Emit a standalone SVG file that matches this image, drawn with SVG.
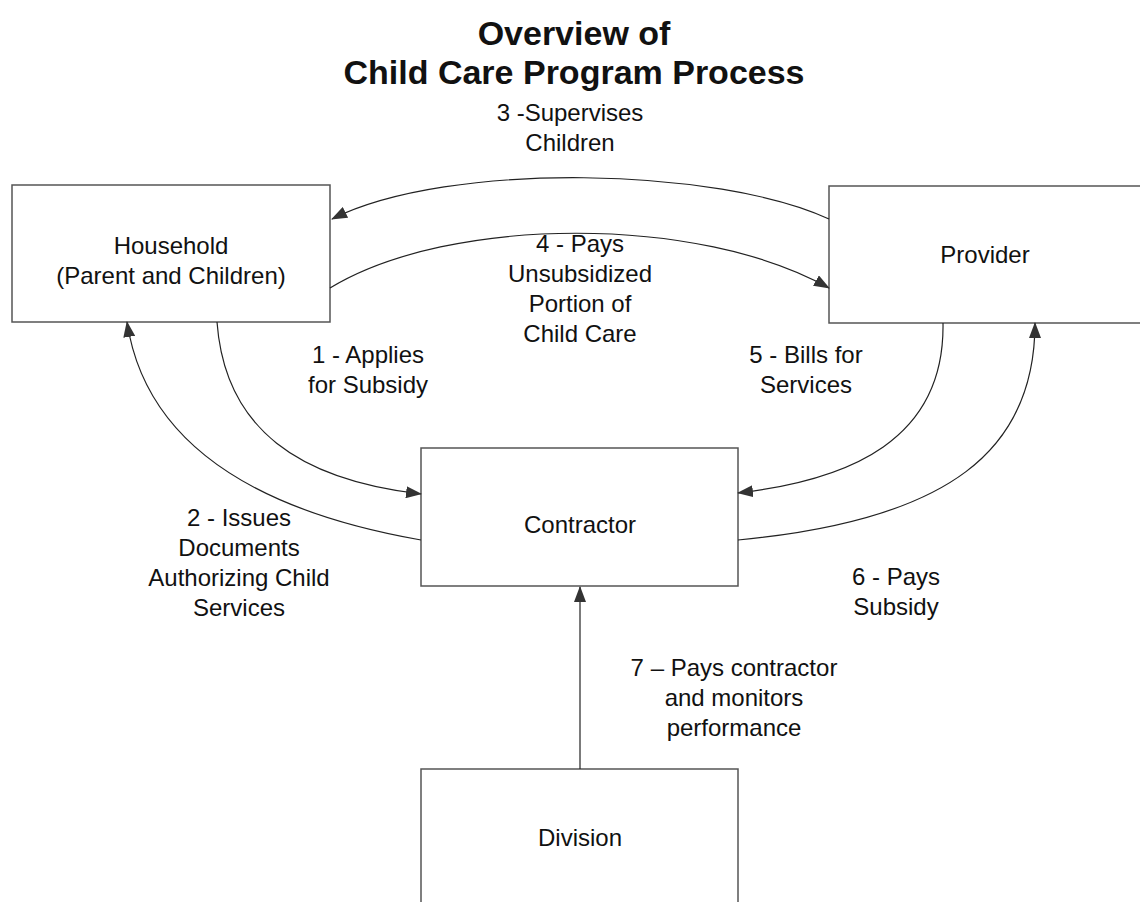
<svg xmlns="http://www.w3.org/2000/svg" width="1140" height="902" viewBox="0 0 1140 902">
<defs>
<style>
.box{fill:#fff;stroke:#555;stroke-width:1.5}
.t{font-family:"Liberation Sans",Arial,sans-serif;font-size:24px;fill:#111;text-anchor:middle}
.title{font-family:"Liberation Sans",Arial,sans-serif;font-size:34px;font-weight:bold;fill:#111;text-anchor:middle}
.c{fill:none;stroke:#222;stroke-width:1.2}
</style>
<marker id="arr" markerUnits="userSpaceOnUse" markerWidth="16" markerHeight="12" refX="15" refY="6" orient="auto">
<path d="M0,0 L16,6 L0,12 Z" fill="#333"/>
</marker>
</defs>
<rect width="1140" height="902" fill="#fff"/>
<g id="title">
<text class="title" x="574" y="45">Overview of</text>
<text class="title" x="574" y="84">Child Care Program Process</text>
</g>
<g id="household">
<rect class="box" x="12" y="185" width="318" height="137"/>
<text class="t" x="171" y="254">Household</text>
<text class="t" x="171" y="284">(Parent and Children)</text>
</g>
<g id="provider">
<rect class="box" x="829" y="186" width="320" height="137"/>
<text class="t" x="985" y="263">Provider</text>
</g>
<g id="contractor">
<rect class="box" x="421" y="448" width="317" height="138"/>
<text class="t" x="580" y="533">Contractor</text>
</g>
<g id="division">
<rect class="box" x="421" y="769" width="317" height="150"/>
<text class="t" x="580" y="846">Division</text>
</g>
<g id="connectors">
<path class="c" d="M829,219 C720,168 450,160 332,219" marker-end="url(#arr)"/>
<path class="c" d="M330,288 C450,215 700,215 829,288" marker-end="url(#arr)"/>
<path class="c" d="M217,322 C225,430 300,480 421,494" marker-end="url(#arr)"/>
<path class="c" d="M421,540 C250,510 145,440 127,322" marker-end="url(#arr)"/>
<path class="c" d="M943,323 C945,440 850,480 738,493" marker-end="url(#arr)"/>
<path class="c" d="M738,540 C950,520 1035,450 1035,323" marker-end="url(#arr)"/>
<path class="c" d="M580,769 L580,587" marker-end="url(#arr)"/>
</g>
<g id="labels">
<text class="t" x="570" y="121">3 -Supervises</text>
<text class="t" x="570" y="151">Children</text>
<text class="t" x="580" y="252">4 - Pays</text>
<text class="t" x="580" y="282">Unsubsidized</text>
<text class="t" x="580" y="312">Portion of</text>
<text class="t" x="580" y="342">Child Care</text>
<text class="t" x="368" y="363">1 - Applies</text>
<text class="t" x="368" y="393">for Subsidy</text>
<text class="t" x="806" y="363">5 - Bills for</text>
<text class="t" x="806" y="393">Services</text>
<text class="t" x="239" y="526">2 - Issues</text>
<text class="t" x="239" y="556">Documents</text>
<text class="t" x="239" y="586">Authorizing Child</text>
<text class="t" x="239" y="616">Services</text>
<text class="t" x="896" y="585">6 - Pays</text>
<text class="t" x="896" y="615">Subsidy</text>
<text class="t" x="734" y="676">7 – Pays contractor</text>
<text class="t" x="734" y="706">and monitors</text>
<text class="t" x="734" y="736">performance</text>
</g>
</svg>
